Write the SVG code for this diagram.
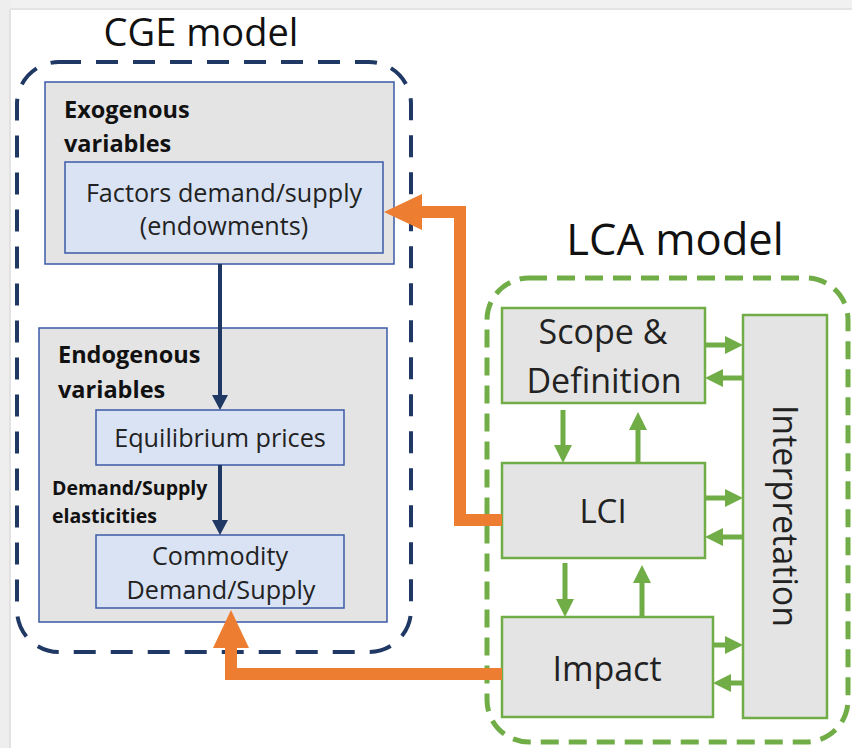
<svg xmlns="http://www.w3.org/2000/svg" width="852" height="748" viewBox="0 0 852 748">
  <style>
    .title { font-family: "Open Sans", "Noto Sans", sans-serif; fill: #111; }
    .txt { font-family: "Open Sans", "Noto Sans", sans-serif; fill: #222; }
    .bold { font-family: "Open Sans", "Noto Sans", sans-serif; font-weight: bold; fill: #111; }
    .grpbox { fill: #e4e4e4; stroke: #3b5aa6; stroke-width: 1.5; }
    .varbox { fill: #dae3f3; stroke: #3b5aa6; stroke-width: 1.5; }
    .lcabox { fill: #e4e4e4; stroke: #70ad47; stroke-width: 2.5; }
    .navy { stroke: #1f3864; stroke-width: 4; fill: none; }
    .green { stroke: #70ad47; stroke-width: 5; fill: none; }
    .orange { stroke: #ed7d31; stroke-width: 12; fill: none; }
  </style>
  <defs>
    <marker id="headNavy" markerUnits="userSpaceOnUse" markerWidth="16" markerHeight="18" refX="0" refY="8" orient="auto">
      <path d="M0,0 L15,8 L0,16 z" fill="#1f3864"/>
    </marker>
    <marker id="headGreen" markerUnits="userSpaceOnUse" markerWidth="20" markerHeight="20" refX="0" refY="9" orient="auto">
      <path d="M0,0 L18,9 L0,18 z" fill="#70ad47"/>
    </marker>
    <marker id="headOrange" markerUnits="userSpaceOnUse" markerWidth="40" markerHeight="40" refX="0" refY="18" orient="auto">
      <path d="M0,0 L38,18 L0,36 z" fill="#ed7d31"/>
    </marker>
  </defs>

  <!-- page background with light frame at top and left -->
  <rect x="0" y="0" width="852" height="748" fill="#ffffff"/>
  <rect x="0" y="0" width="852" height="10" fill="#f1f1f1"/>
  <rect x="0" y="8" width="852" height="2" fill="#e4e4e4"/>
  <rect x="0" y="0" width="10" height="748" fill="#eeeeee"/>
  <rect x="9" y="10" width="2" height="738" fill="#e2e2e2"/>

  <!-- CGE model container -->
  <g id="cge-model">
    <text class="title" x="201" y="46" font-size="38" text-anchor="middle">CGE model</text>
    <rect x="17" y="62" width="394" height="590" rx="42" ry="42" fill="none" stroke="#1f3864" stroke-width="4" stroke-dasharray="22 15"/>
  </g>

  <g id="exogenous">
    <rect class="grpbox" x="45" y="82" width="349" height="182"/>
    <text class="bold" x="64" y="118" font-size="23.5">Exogenous</text>
    <text class="bold" x="64" y="152" font-size="23.5">variables</text>
  </g>

  <g id="factors">
    <rect class="varbox" x="65" y="162" width="318" height="91"/>
    <text class="txt" x="224" y="202" font-size="25.2" text-anchor="middle">Factors demand/supply</text>
    <text class="txt" x="224" y="235" font-size="25.2" text-anchor="middle">(endowments)</text>
  </g>

  <g id="endogenous">
    <rect class="grpbox" x="39" y="328" width="348" height="294"/>
    <text class="bold" x="58" y="363" font-size="23.5">Endogenous</text>
    <text class="bold" x="58" y="398" font-size="23.5">variables</text>
    <text class="bold" x="52" y="495" font-size="19.5">Demand/Supply</text>
    <text class="bold" x="52" y="523" font-size="19.5">elasticities</text>
  </g>

  <g id="equilibrium">
    <rect class="varbox" x="96" y="410" width="248" height="55"/>
    <text class="txt" x="220" y="447" font-size="25.2" text-anchor="middle">Equilibrium prices</text>
  </g>

  <g id="commodity">
    <rect class="varbox" x="96" y="535" width="248" height="73"/>
    <text class="txt" x="220" y="565" font-size="25.2" text-anchor="middle">Commodity</text>
    <text class="txt" x="221" y="599" font-size="25.2" text-anchor="middle">Demand/Supply</text>
  </g>

  <!-- LCA model container -->
  <g id="lca-model">
    <text class="title" x="675" y="255" font-size="43.5" text-anchor="middle">LCA model</text>
    <rect x="487" y="278" width="361" height="464" rx="42" ry="42" fill="none" stroke="#70ad47" stroke-width="5" stroke-dasharray="18 10"/>
  </g>

  <g id="scope">
    <rect class="lcabox" x="502" y="308" width="203" height="95"/>
    <text class="txt" x="603" y="344" font-size="34" text-anchor="middle">Scope &amp;</text>
    <text class="txt" x="604" y="393" font-size="34" text-anchor="middle">Definition</text>
  </g>

  <g id="lci">
    <rect class="lcabox" x="502" y="463" width="203" height="95"/>
    <text class="txt" x="603" y="523" font-size="33" text-anchor="middle">LCI</text>
  </g>

  <g id="impact">
    <rect class="lcabox" x="502" y="617" width="211" height="100"/>
    <text class="txt" x="607" y="681" font-size="34" text-anchor="middle">Impact</text>
  </g>

  <g id="interpretation">
    <rect class="lcabox" x="743" y="315" width="84" height="403"/>
    <text class="txt" transform="translate(773 516) rotate(90)" x="0" y="0" font-size="34" text-anchor="middle">Interpretation</text>
  </g>

  <!-- connectors -->
  <g id="connectors">
    <line class="navy" x1="220" y1="264" x2="220" y2="395" marker-end="url(#headNavy)"/>
    <line class="navy" x1="220" y1="465" x2="220" y2="520" marker-end="url(#headNavy)"/>

    <path class="orange" d="M502 520 H460 V212 H422" stroke-linejoin="miter" marker-end="url(#headOrange)"/>
    <path class="orange" d="M502 674 H231 V648" stroke-linejoin="miter" marker-end="url(#headOrange)"/>

    <line class="green" x1="705" y1="345" x2="725" y2="345" marker-end="url(#headGreen)"/>
    <line class="green" x1="743" y1="378" x2="723" y2="378" marker-end="url(#headGreen)"/>
    <line class="green" x1="563" y1="410" x2="563" y2="445" marker-end="url(#headGreen)"/>
    <line class="green" x1="638" y1="463" x2="638" y2="430" marker-end="url(#headGreen)"/>
    <line class="green" x1="705" y1="498" x2="725" y2="498" marker-end="url(#headGreen)"/>
    <line class="green" x1="743" y1="537" x2="723" y2="537" marker-end="url(#headGreen)"/>
    <line class="green" x1="565" y1="563" x2="565" y2="599" marker-end="url(#headGreen)"/>
    <line class="green" x1="642" y1="617" x2="642" y2="583" marker-end="url(#headGreen)"/>
    <line class="green" x1="713" y1="645" x2="725" y2="645" marker-end="url(#headGreen)"/>
    <line class="green" x1="743" y1="683" x2="731" y2="683" marker-end="url(#headGreen)"/>
  </g>
</svg>
